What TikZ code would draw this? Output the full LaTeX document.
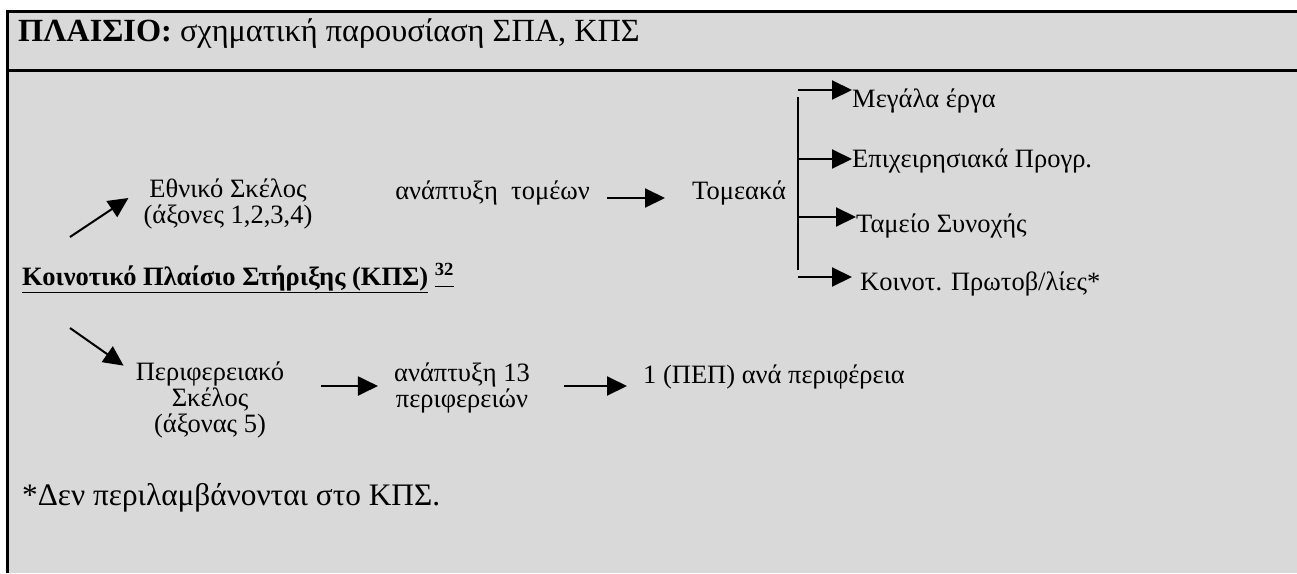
\documentclass[tikz,border=0pt]{standalone}
\usepackage{fontspec}
\setmainfont{Liberation Serif}
\usetikzlibrary{arrows.meta}
\definecolor{boxgray}{RGB}{217,217,217}

\tikzset{
  lbl/.style={inner sep=0pt, align=center, font=\fontsize{26.5}{26}\selectfont},
  arr/.style={line width=2pt, -{Triangle[length=20pt,width=19pt]}},
  frame/.style={line width=3pt},
}

\begin{document}
\begin{tikzpicture}[x=1pt,y=1pt,yscale=-1]
        \useasboundingbox (0,0) rectangle (1297,573);

        %Shape: Frame
        \fill[white] (0,0) rectangle (1297,573);
        \fill[boxgray] (7,11) rectangle (1297,573);
        \draw[frame] (1297,11) -- (7,11) -- (7,573);
        \draw[frame] (7,70) -- (1297,70);

        %Text: header
        \node[lbl, anchor=base west, font=\fontsize{32.3}{33}\selectfont] (ttl) at (18,41) {\textbf{ΠΛΑΙΣΙΟ:} σχηματική παρουσίαση ΣΠΑ, ΚΠΣ};

        %Text: national branch
        \node[lbl] (ethn) at (228,204) {Εθνικό Σκέλος\\(άξονες 1,2,3,4)};
        \node[lbl, anchor=base east] (anap1) at (590,199) {ανάπτυξη\ \ τομέων};
        \node[lbl, anchor=base west] (tom) at (692,199) {Τομεακά};
        \node[lbl, anchor=base west] (mega) at (852,107) {Μεγάλα έργα};
        \node[lbl, anchor=base west] (epix) at (852,167) {Επιχειρησιακά Προγρ.};
        \node[lbl, anchor=base west] (tam) at (856,232) {Ταμείο Συνοχής};
        \node[lbl, anchor=base west] (koin) at (860,290) {Κοινοτ. Πρωτοβ/λίες*};

        %Text: root
        \node[lbl, anchor=base west] (kps) at (22,285) {\bfseries\underline{Κοινοτικό Πλαίσιο Στήριξης (ΚΠΣ)}~\underline{\textsuperscript{32}}};

        %Text: regional branch
        \node[lbl] (per) at (210,400) {Περιφερειακό\\Σκέλος\\(άξονας 5)};
        \node[lbl] (anap2) at (462,388) {ανάπτυξη 13\\περιφερειών};
        \node[lbl, anchor=base west] (pep) at (643,383) {1 (ΠΕΠ) ανά περιφέρεια};

        %Text: footnote
        \node[lbl, anchor=base west, font=\fontsize{31.3}{33}\selectfont] (note) at (22,505) {*Δεν περιλαμβάνονται στο ΚΠΣ.};

        %Straight Lines: diagonal arrows
        \coordinate (upstart) at (70,237);
        \coordinate (downstart) at (70,328);
        \draw[arr] (upstart) -- ([shift={(-15,-6)}]ethn.west);
        \draw[arr] (downstart) -- ([shift={(-12,4)}]per.north west);

        %Straight Lines: horizontal arrows
        \coordinate (rowa) at (0,198);
        \coordinate (rowb) at (0,386);
        \draw[arr, shorten <=37pt, shorten >=16pt] (per.east |- rowb) -- (anap2.west |- rowb);
        \draw[arr, shorten <=17pt, shorten >=27pt] (anap1.east |- rowa) -- (tom.west |- rowa);
        \draw[arr, shorten <=34pt, shorten >=16pt] (anap2.east |- rowb) -- (pep.west |- rowb);

        %Straight Lines: tree
        \coordinate (trunk) at (798,97);
        \coordinate (trunkend) at (798,270);
        \draw[line width=2pt] (trunk) -- (trunkend);
        \coordinate (b1) at (798,90);
        \coordinate (b2) at (798,159);
        \coordinate (b3) at (798,217);
        \coordinate (b4) at (798,277);
        \draw[arr] (b1) -- (b1 -| mega.west);
        \draw[arr] (b2) -- (b2 -| epix.west);
        \draw[arr] (b3) -- (b3 -| tam.west);
        \draw[arr] (b4) -- ([xshift=-8pt]b4 -| koin.west);
\end{tikzpicture}
\end{document}
